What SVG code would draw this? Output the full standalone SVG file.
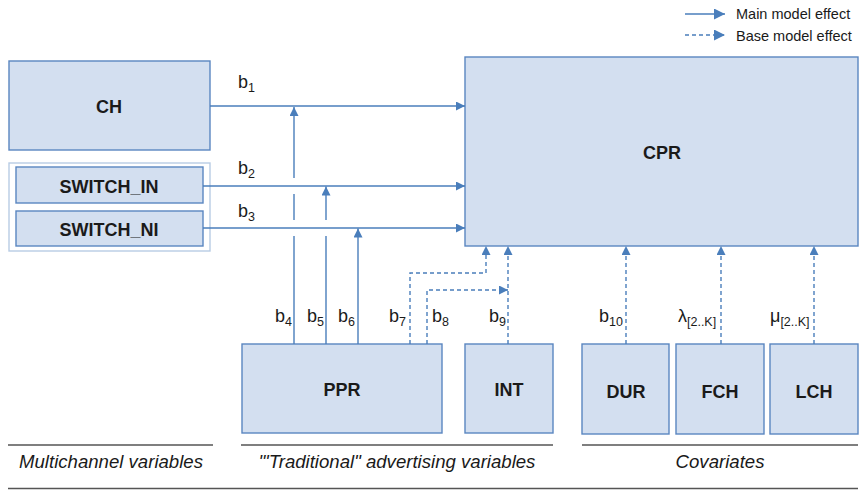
<svg xmlns="http://www.w3.org/2000/svg" width="866" height="490" viewBox="0 0 866 490">
<style>
.box{fill:#d3dff0;stroke:#5a86c0;stroke-width:1.4}
.grp{fill:none;stroke:#b8cce4;stroke-width:1.4}
.lbl{font-family:"Liberation Sans",Arial,sans-serif;font-weight:bold;font-size:18px;fill:#1a1a1a;text-anchor:middle}
.ln{fill:none;stroke:#4a7ebb;stroke-width:1.4}
.dl{fill:none;stroke:#4a7ebb;stroke-width:1.4;stroke-dasharray:4,3}
.m{font-family:"Liberation Sans",Arial,sans-serif;font-size:18px;fill:#1a1a1a}
.s{font-size:12.5px}
.cap{font-family:"Liberation Sans",Arial,sans-serif;font-style:italic;font-size:18.6px;fill:#1a1a1a;text-anchor:middle}
.leg{font-family:"Liberation Sans",Arial,sans-serif;font-size:14.5px;fill:#1a1a1a}
.rule{stroke:#555;stroke-width:1.6}
</style>
<defs>
<marker id="ah" viewBox="0 0 10 10" refX="10" refY="5" markerWidth="10" markerHeight="9" markerUnits="userSpaceOnUse" orient="auto"><path d="M0,0 L10,5 L0,10 z" fill="#4a7ebb"/></marker>
<marker id="ahL" viewBox="0 0 10 10" refX="10" refY="5" markerWidth="13" markerHeight="11" markerUnits="userSpaceOnUse" orient="auto"><path d="M0,0 L10,5 L0,10 z" fill="#4a7ebb"/></marker>
</defs>

<g id="legend">
<line class="ln" x1="685" y1="14" x2="725" y2="14" marker-end="url(#ahL)"/>
<text class="leg" x="736" y="18.5">Main model effect</text>
<line class="dl" x1="685" y1="35" x2="725" y2="35" marker-end="url(#ahL)"/>
<text class="leg" x="736" y="41">Base model effect</text>
</g>

<g id="switch-group"><rect class="grp" x="9" y="163" width="201" height="88"/></g>
<g id="CH"><rect class="box" x="9" y="61" width="201" height="89"/><text class="lbl" x="109" y="113">CH</text></g>
<g id="SWITCH_IN"><rect class="box" x="16" y="167" width="187" height="36"/><text class="lbl" x="109" y="193">SWITCH_IN</text></g>
<g id="SWITCH_NI"><rect class="box" x="16" y="211" width="187" height="35"/><text class="lbl" x="109" y="236">SWITCH_NI</text></g>
<g id="CPR"><rect class="box" x="465" y="57" width="393" height="189"/><text class="lbl" x="662" y="159">CPR</text></g>
<g id="PPR"><rect class="box" x="242" y="344" width="200" height="89"/><text class="lbl" x="342" y="396">PPR</text></g>
<g id="INT"><rect class="box" x="465" y="344" width="88" height="89"/><text class="lbl" x="509" y="396">INT</text></g>
<g id="DUR"><rect class="box" x="582" y="344" width="87" height="90"/><text class="lbl" x="626" y="398">DUR</text></g>
<g id="FCH"><rect class="box" x="676" y="344" width="88" height="90"/><text class="lbl" x="720" y="398">FCH</text></g>
<g id="LCH"><rect class="box" x="770" y="344" width="88" height="90"/><text class="lbl" x="814" y="398">LCH</text></g>

<g id="connectors">
<line class="ln" x1="210" y1="106" x2="465" y2="106" marker-end="url(#ah)"/>
<line class="ln" x1="203" y1="186" x2="465" y2="186" marker-end="url(#ah)"/>
<line class="ln" x1="203" y1="228" x2="465" y2="228" marker-end="url(#ah)"/>
<path class="ln" d="M294,344 V236 M294,220 V194 M294,178 V107" marker-end="url(#ah)"/>
<path class="ln" d="M326,344 V236 M326,220 V186.5" marker-end="url(#ah)"/>
<line class="ln" x1="358" y1="344" x2="358" y2="228.5" marker-end="url(#ah)"/>
<path class="dl" d="M410,344 V273 H486 V246" marker-end="url(#ah)"/>
<path class="dl" d="M427,344 V290 H508" marker-end="url(#ah)"/>
<line class="dl" x1="508" y1="344" x2="508" y2="246" marker-end="url(#ah)"/>
<line class="dl" x1="626" y1="344" x2="626" y2="246" marker-end="url(#ah)"/>
<line class="dl" x1="721" y1="344" x2="721" y2="246" marker-end="url(#ah)"/>
<line class="dl" x1="814" y1="344" x2="814" y2="246" marker-end="url(#ah)"/>
</g>

<g id="labels">
<text class="m" x="238" y="88">b<tspan class="s" dy="4">1</tspan></text>
<text class="m" x="238" y="174">b<tspan class="s" dy="4">2</tspan></text>
<text class="m" x="238" y="217">b<tspan class="s" dy="4">3</tspan></text>
<text class="m" x="275" y="322">b<tspan class="s" dy="4">4</tspan></text>
<text class="m" x="307" y="322">b<tspan class="s" dy="4">5</tspan></text>
<text class="m" x="338" y="322">b<tspan class="s" dy="4">6</tspan></text>
<text class="m" x="389" y="322">b<tspan class="s" dy="4">7</tspan></text>
<text class="m" x="432" y="322">b<tspan class="s" dy="4">8</tspan></text>
<text class="m" x="489" y="322">b<tspan class="s" dy="4">9</tspan></text>
<text class="m" x="599" y="322">b<tspan class="s" dy="4">10</tspan></text>
<text class="m" x="678" y="322">λ<tspan class="s" dy="4">[2..K]</tspan></text>
<text class="m" x="770" y="322">μ<tspan class="s" dy="4">[2..K]</tspan></text>
</g>

<g id="captions">
<line class="rule" x1="8" y1="445" x2="213" y2="445"/>
<line class="rule" x1="241" y1="445" x2="553" y2="445"/>
<line class="rule" x1="582" y1="445" x2="858" y2="445"/>
<line class="rule" x1="8" y1="488.5" x2="858" y2="488.5"/>
<text class="cap" x="111" y="468">Multichannel variables</text>
<text class="cap" x="397" y="468">'"Traditional" advertising variables</text>
<text class="cap" x="720" y="468">Covariates</text>
</g>
</svg>
